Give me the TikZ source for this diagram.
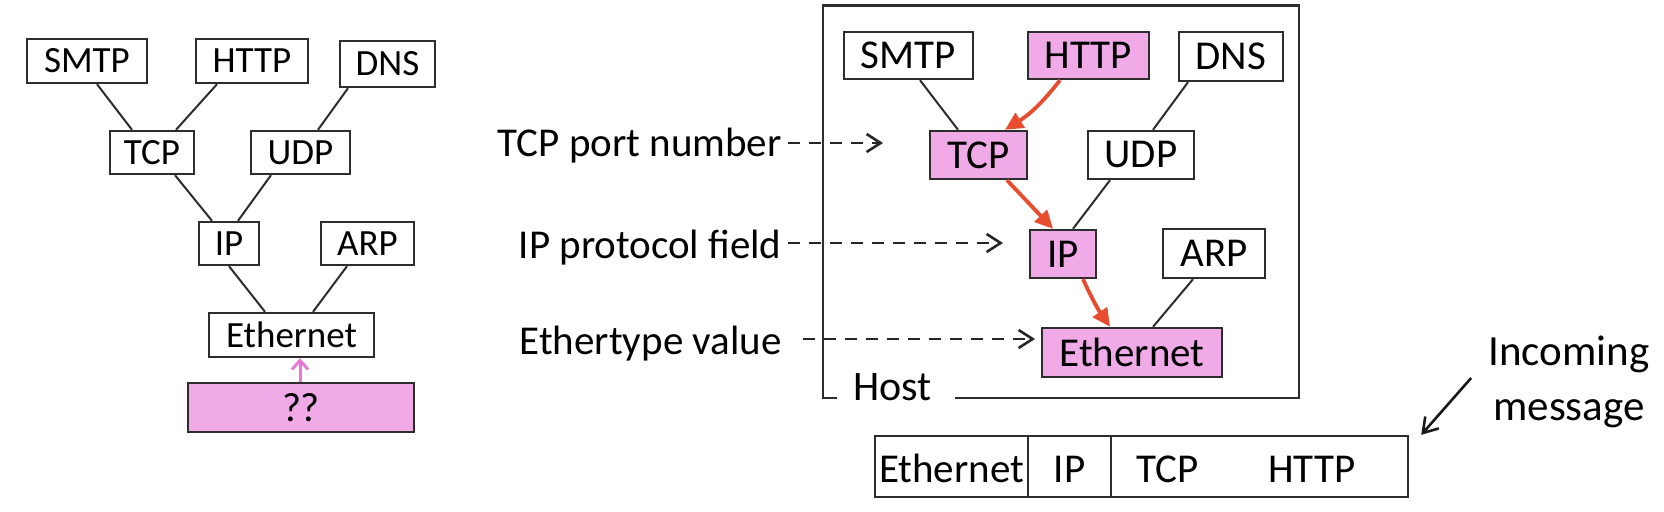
\documentclass[tikz,border=0pt]{standalone}
\usepackage{fontspec}
\setmainfont{Carlito}
\usetikzlibrary{arrows.meta,calc}
\definecolor{pinkfill}{RGB}{240,170,232}
\definecolor{boxline}{RGB}{45,45,45}
\definecolor{redarrow}{RGB}{232,76,46}
\definecolor{pinkarrow}{RGB}{232,120,214}
\begin{document}
\begin{tikzpicture}[x=0.5pt,y=-0.5pt,
  pbox/.style={draw=boxline,line width=1.2pt,inner sep=0pt,fill=white},
  ltree/.style={pbox,font=\fontsize{18.5}{22}\selectfont},
  rtree/.style={pbox,font=\fontsize{20.5}{24}\selectfont},
  hl/.style={fill=pinkfill},
  tline/.style={draw=boxline,line width=1pt},
  redarr/.style={draw=redarrow,line width=1.9pt,-{Triangle[length=9pt,width=8.5pt]}},
  dasharr/.style={draw=black!85,line width=1.3pt,dash pattern=on 6pt off 4.5pt,-{Straight Barb[length=7pt,width=9pt]}},
  pinkarr/.style={draw=pinkarrow,line width=1.5pt,-{Straight Barb[length=4.5pt,width=8pt]}},
  inarr/.style={draw=black!90,line width=1.3pt,-{Straight Barb[length=7pt,width=9pt]}},
  frame/.style={draw=boxline,line width=1.2pt},
  lbl/.style={inner sep=0pt,font=\fontsize{20.5}{24}\selectfont},
  mfield/.style={draw=boxline,line width=1.2pt,inner sep=0pt,minimum height=30.5pt,
    font=\fontsize{20.5}{24}\selectfont,text height=16.5pt,text depth=0pt},
]
\fill[white] (0,0) rectangle (1664,512);
\useasboundingbox (0,0) rectangle (1664,512);

% ---------- left tree ----------
\node[ltree,minimum width=60pt,minimum height=22pt] (lsmtp) at (87,61) {SMTP};
\node[ltree,minimum width=56pt,minimum height=22pt] (lhttp) at (252,61) {HTTP};
\node[ltree,minimum width=47.5pt,minimum height=23pt] (ldns) at (387.5,64) {DNS};
\node[ltree,minimum width=42pt,minimum height=21.5pt] (ltcp) at (152,152.5) {TCP};
\node[ltree,minimum width=49.5pt,minimum height=21.5pt] (ludp) at (300.5,152.5) {UDP};
\node[ltree,minimum width=30pt,minimum height=21.5pt] (lip) at (229,243.5) {IP};
\node[ltree,minimum width=46.5pt,minimum height=21.5pt] (larp) at (367.5,243.5) {ARP};
\node[ltree,minimum width=82.5pt,minimum height=22pt] (leth) at (291.5,335) {Ethernet};
\node[ltree,hl,minimum width=113pt,minimum height=24.5pt,font=\fontsize{20.5}{24}\selectfont] (lunk) at (301,407.5) {??};

\draw[tline] ([xshift=5pt]lsmtp.south) -- ([xshift=-10pt]ltcp.north);
\draw[tline] ([xshift=-17.5pt]lhttp.south) -- ([xshift=12pt]ltcp.north);
\draw[tline] ([xshift=-19.75pt]ldns.south) -- ([xshift=8.75pt]ludp.north);
\draw[tline] ([xshift=11.5pt]ltcp.south) -- ([xshift=-8.5pt]lip.north);
\draw[tline] ([xshift=-14.75pt]ludp.south) -- ([xshift=4.5pt]lip.north);
\draw[tline] (lip.south) -- ([xshift=-13.25pt]leth.north);
\draw[tline] ([xshift=-10.25pt]larp.south) -- ([xshift=10.75pt]leth.north);
\draw[pinkarr] ([xshift=-0.5pt]lunk.north) -- ([xshift=4.25pt]leth.south);

% ---------- host frame ----------
\draw[frame] (837,398) -- (823,398) -- (823,5.5) -- (1299,5.5) -- (1299,398) -- (955,398);
\node[lbl,anchor=base west,font=\fontsize{21}{24}\selectfont] (host) at (853,401) {Host};

% ---------- right tree ----------
\node[rtree,minimum width=64.5pt,minimum height=23.5pt] (rsmtp) at (908.5,55.5) {SMTP};
\node[rtree,hl,minimum width=60.5pt,minimum height=23.5pt] (rhttp) at (1088.5,55.5) {HTTP};
\node[rtree,minimum width=52pt,minimum height=24.5pt] (rdns) at (1231,56.5) {DNS};
\node[rtree,hl,minimum width=48.5pt,minimum height=24pt] (rtcp) at (978.5,155) {TCP};
\node[rtree,minimum width=53pt,minimum height=24pt] (rudp) at (1141,155) {UDP};
\node[rtree,hl,minimum width=33pt,minimum height=24pt] (rip) at (1063,254) {IP};
\node[rtree,minimum width=51pt,minimum height=24.5pt] (rarp) at (1214,253.5) {ARP};
\node[rtree,hl,minimum width=90pt,minimum height=24.5pt] (reth) at (1132,352.5) {Ethernet};

\draw[tline] ([xshift=5.75pt]rsmtp.south) -- ([xshift=-10.25pt]rtcp.north);
\draw[tline] ([xshift=-21.5pt]rdns.south) -- ([xshift=6pt]rudp.north);
\draw[tline] ([xshift=-15.5pt]rudp.south) -- ([xshift=5pt]rip.north);
\draw[tline] ([xshift=-10.5pt]rarp.south) -- ([xshift=10.5pt]reth.north);

\draw[redarr] ([xshift=-14.25pt]rhttp.south) to[bend left=10] ([xshift=13.25pt]rtcp.north);
\draw[redarr] ([xshift=14.25pt]rtcp.south) -- ([xshift=-5pt]rip.north);
\draw[redarr] ([xshift=10pt]rip.south) to[bend right=5] ([xshift=-11pt]reth.north);

% ---------- field labels ----------
\node[lbl,anchor=base east] (ltcpport) at (782,157) {TCP port number};
\node[lbl,anchor=base east] (lipproto) at (782,259) {IP protocol field};
\node[lbl,anchor=base east] (lethtype) at (782,355) {Ethertype value};
\coordinate (tcpaim) at (883,143);
\coordinate (ipaim) at (1003,243);
\coordinate (ethaim) at (1035,339);
\draw[dasharr] ($(ltcpport.base east)+(6,-14)$) -- (tcpaim);
\draw[dasharr] ($(lipproto.base east)+(6,-16)$) -- (ipaim);
\draw[dasharr] ($(lethtype.base east)+(21,-16)$) -- (ethaim);

% ---------- incoming message ----------
\node[mfield,minimum width=76.5pt] (meth) at (951.5,466.5) {Ethernet};
\node[mfield,minimum width=41.5pt] (mip) at (1069.5,466.5) {IP};
\node[mfield,minimum width=148.5pt] (mrest) at (1259.5,466.5) {};
\node[lbl,anchor=base] (mtcp) at (1167.5,483) {TCP};
\node[lbl,anchor=base] (mhttp) at (1312,483) {HTTP};

\node[lbl,align=center,font=\fontsize{21.5}{27.5}\selectfont] (incoming) at (1569,382) {Incoming\\message};
\draw[inarr] ($(incoming.west)+(-17,-4)$) -- ([xshift=6pt]mrest.north east);
\end{tikzpicture}
\end{document}
